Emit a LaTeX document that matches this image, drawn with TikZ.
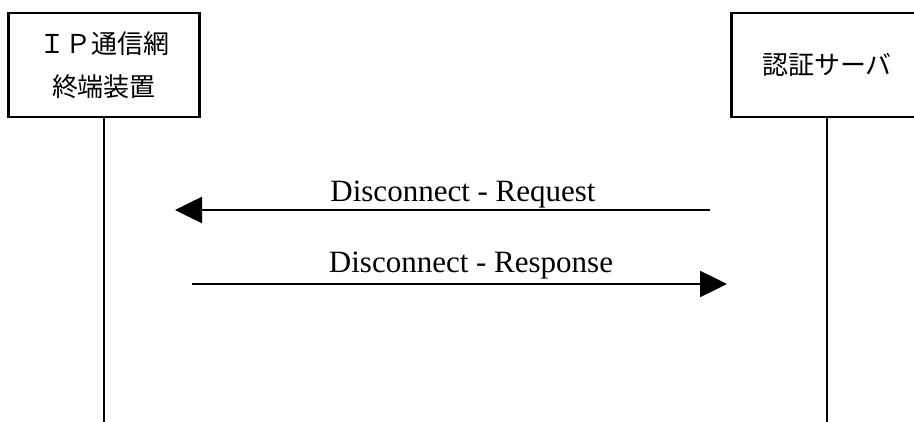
\documentclass[tikz,border=0pt]{standalone}
\usepackage{fontspec}
\setmainfont{Liberation Serif}
\newfontfamily\jpfont{Noto Sans CJK JP}
\usetikzlibrary{arrows.meta}
\tikzstyle{rec} = [rectangle,draw,line width=2.2pt,text centered,align=center,minimum width=191pt,minimum height=104pt,font=\jpfont\fontsize{26}{43}\selectfont]
\tikzstyle{life} = [line width=2.2pt]
\tikzstyle{msg} = [line width=2.6pt,-{Triangle[length=27pt,width=26pt]}]
\tikzstyle{lbl} = [font=\fontsize{31}{34}\selectfont,inner sep=0pt,anchor=base]

\begin{document}
\begin{tikzpicture}[x=1pt,y=-1pt]
    	\useasboundingbox (0,0) rectangle (914,422);
    	\clip (0,0) rectangle (914,422);

    	\node[rec](terminal) at (104,65) {ＩＰ通信網\\終端装置};
    	\node[rec](server) at (827,65) {認証サーバ};

    	\coordinate (terminalend) at (104,422);
    	\coordinate (serverend) at (827,422);
    	\draw[life] (terminal) -- (terminalend);
    	\draw[life] (server) -- (serverend);

    	\coordinate (reqfrom) at (710,210);
    	\coordinate (reqto) at (175,210);
    	\coordinate (resfrom) at (192,284);
    	\coordinate (resto) at (727,284);

    	\node[lbl](reqlabel) at (463,202) {Disconnect - Request};
    	\node[lbl](reslabel) at (471,273) {Disconnect - Response};

		\draw[msg] (reqfrom) -- (reqto);
    	\draw[msg] (resfrom) -- (resto);

    	\end{tikzpicture}
\end{document}
